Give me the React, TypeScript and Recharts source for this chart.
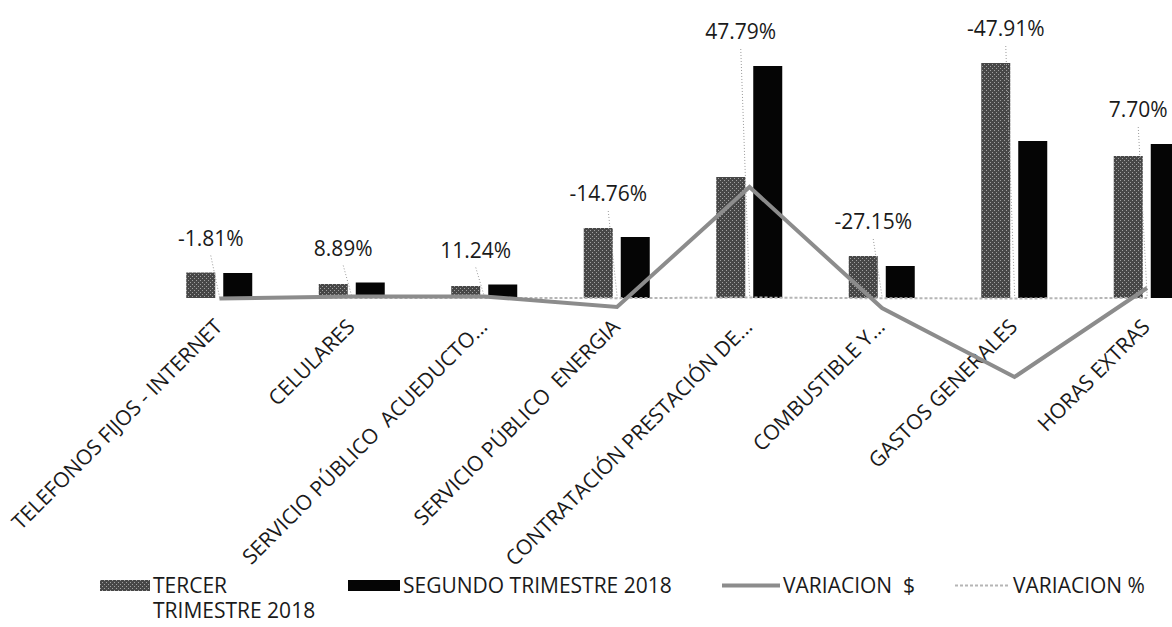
import { ComposedChart, Bar, Line, XAxis, YAxis, Legend } from "recharts";

// expense categories as printed under the bars (Excel truncated the long ones)
const categories = [
  "TELEFONOS FIJOS - INTERNET",
  "CELULARES",
  "SERVICIO PÚBLICO  ACUEDUCTO...",
  "SERVICIO PÚBLICO  ENERGIA",
  "CONTRATACIÓN PRESTACIÓN DE...",
  "COMBUSTIBLE Y...",
  "GASTOS GENERALES",
  "HORAS EXTRAS",
];

// values (millions)
const tercerTrimestre = [25.5, 14, 12, 70, 121, 42, 235, 142];
const segundoTrimestre = [25, 15.5, 13.5, 61, 232, 32, 157, 154];
const variacionPesos = [-0.5, 1.5, 1.5, -9, 111, -10, -79, 10];
const variacionPct = [-1.81, 8.89, 11.24, -14.76, 47.79, -27.15, -47.91, 7.7];

const seriesNames = [
  "TERCER TRIMESTRE 2018",
  "SEGUNDO TRIMESTRE 2018",
  "VARIACION  $",
  "VARIACION %",
];

const data = categories.map((name, i) => ({
  name,
  tercer: tercerTrimestre[i],
  segundo: segundoTrimestre[i],
  pesos: variacionPesos[i],
  pct: variacionPct[i],
}));

const FONT = "'Open Sans', sans-serif";
const TEXT = "#1a1a1a";

// percentage callout above the taller bar, with its leader line,
// plus the rotated category name under the zero line
function Callout(props: any) {
  const { x, y, width, height, payload } = props;
  const cx = x + width / 2;
  const base = y + height;
  const ly = y - 35;
  const ax = cx + 4;
  const ay = base + 30;
  return (
    <g>
      <line
        x1={cx - 9}
        y1={ly + 18}
        x2={cx}
        y2={base}
        stroke="#9a9a9a"
        strokeDasharray="1 2"
      />
      <text
        x={cx - 9}
        y={ly}
        textAnchor="middle"
        dominantBaseline="central"
        fontSize={21}
        fill={TEXT}
      >
        {payload.pct.toFixed(2)}%
      </text>
      <text
        x={ax}
        y={ay}
        transform={`rotate(-45 ${ax} ${ay})`}
        textAnchor="end"
        fontSize={21}
        fill={TEXT}
        style={{ whiteSpace: "pre" }}
      >
        {payload.name}
      </text>
    </g>
  );
}

const legendWidths = [248, 374, 233, 200];

function Swatch({ index }: { index: number }) {
  if (index === 0)
    return (
      <svg width={50} height={11}>
        <rect width={50} height={11} fill="url(#tercerTexture)" />
      </svg>
    );
  if (index === 1)
    return (
      <svg width={52} height={11}>
        <rect width={52} height={11} fill="#050505" />
      </svg>
    );
  if (index === 2)
    return (
      <svg width={58} height={11}>
        <line x1={0} y1={5.5} x2={58} y2={5.5} stroke="#8c8c8c" strokeWidth={4} />
      </svg>
    );
  return (
    <svg width={55} height={11}>
      <line
        x1={0}
        y1={5.5}
        x2={55}
        y2={5.5}
        stroke="#b5b5b5"
        strokeWidth={2}
        strokeDasharray="3 2"
      />
    </svg>
  );
}

function renderLegend() {
  return (
    <div
      style={{
        display: "flex",
        paddingLeft: 100,
        fontFamily: FONT,
        fontSize: 21,
        lineHeight: "25px",
        color: TEXT,
      }}
    >
      {seriesNames.map((s, i) => (
        <div
          key={s}
          style={{ display: "flex", alignItems: "flex-start", width: legendWidths[i] }}
        >
          <div style={{ marginTop: 7, marginRight: 3, lineHeight: 0 }}>
            <Swatch index={i} />
          </div>
          <div style={{ maxWidth: i === 0 ? 170 : undefined, whiteSpace: i === 0 ? "normal" : "pre" }}>
            {s}
          </div>
        </div>
      ))}
    </div>
  );
}

export default function App() {
  return (
    <div
      style={{
        position: "absolute",
        left: 0,
        top: 0,
        width: 1172,
        height: 627,
        overflow: "hidden",
        background: "#fff",
        fontFamily: FONT,
      }}
    >
      <ComposedChart
        width={1240}
        height={627}
        data={data}
        margin={{ top: 38, right: 26.75, bottom: 229, left: 153.25 }}
        barSize={29}
        barGap={8}
      >
        <defs>
          <pattern id="tercerTexture" width={4} height={4} patternUnits="userSpaceOnUse">
            <rect width={4} height={4} fill="#474747" />
            <rect x={0} y={0} width={1} height={1} fill="#a0a0a0" />
            <rect x={2} y={2} width={1} height={1} fill="#a0a0a0" />
          </pattern>
        </defs>
        <XAxis dataKey="name" hide />
        <XAxis xAxisId="callout" dataKey="name" hide />
        <YAxis hide domain={[-100, 260]} />
        <Bar
          dataKey="tercer"
          name={seriesNames[0]}
          fill="url(#tercerTexture)"
          isAnimationActive={false}
        />
        <Bar
          dataKey="segundo"
          name={seriesNames[1]}
          fill="#050505"
          isAnimationActive={false}
        />
        <Bar
          xAxisId="callout"
          dataKey={(d: any) => [0, Math.max(d.tercer, d.segundo)]}
          shape={Callout}
          legendType="none"
          isAnimationActive={false}
        />
        <Line
          dataKey={(d: any) => d.pct / 100}
          name={seriesNames[3]}
          stroke="#b5b5b5"
          strokeWidth={2}
          strokeDasharray="3 2"
          dot={false}
          isAnimationActive={false}
        />
        <Line
          dataKey="pesos"
          name={seriesNames[2]}
          stroke="#8c8c8c"
          strokeWidth={4}
          dot={false}
          isAnimationActive={false}
        />
        <Legend
          layout="horizontal"
          align="center"
          verticalAlign="middle"
          wrapperStyle={{ top: 573, left: 0, width: 1172 }}
          content={renderLegend}
        />
      </ComposedChart>
    </div>
  );
}
